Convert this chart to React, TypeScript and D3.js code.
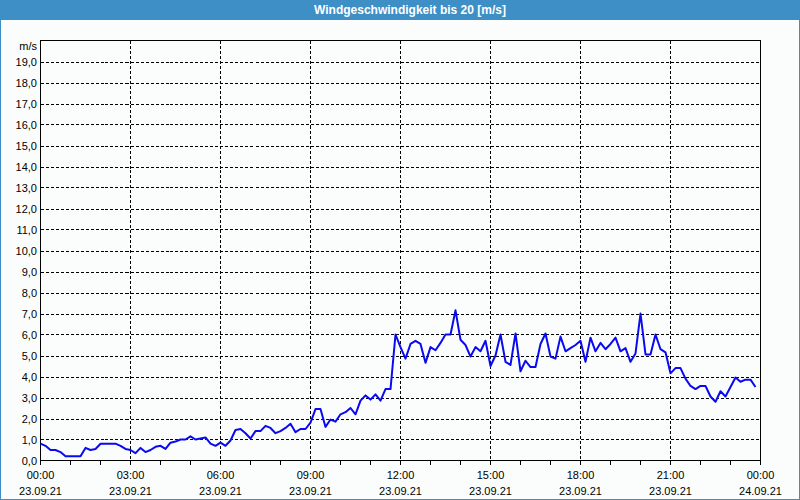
import React from 'react';
import * as d3 from 'd3';

// Wind speed in m/s, one value every 10 minutes starting 23.09.21 00:00
const speeds: number[] = [
  0.8, 0.7, 0.5, 0.5, 0.4, 0.2, 0.2, 0.2, 0.2, 0.6,
  0.5, 0.55, 0.8, 0.8, 0.8, 0.8, 0.7, 0.55, 0.5, 0.35,
  0.6, 0.4, 0.5, 0.65, 0.7, 0.55, 0.85, 0.9, 1.0, 1.0,
  1.15, 1.0, 1.05, 1.1, 0.8, 0.7, 0.85, 0.7, 0.95, 1.45,
  1.5, 1.3, 1.05, 1.4, 1.4, 1.65, 1.55, 1.3, 1.4, 1.55,
  1.75, 1.35, 1.5, 1.5, 1.8, 2.45, 2.45, 1.6, 1.95, 1.85,
  2.2, 2.3, 2.5, 2.2, 2.85, 3.1, 2.9, 3.15, 2.85, 3.4,
  3.4, 6.0, 5.4, 4.85, 5.55, 5.7, 5.55, 4.65, 5.4, 5.25,
  5.6, 6.0, 6.0, 7.15, 5.75, 5.5, 4.95, 5.4, 5.2, 5.7,
  4.5, 5.0, 6.0, 4.7, 4.55, 6.05, 4.25, 4.75, 4.45, 4.45,
  5.55, 6.05, 4.95, 4.85, 5.9, 5.2, 5.35, 5.5, 5.7, 4.7,
  5.85, 5.2, 5.6, 5.3, 5.55, 5.85, 5.2, 5.35, 4.7, 5.1,
  7.0, 5.05, 5.05, 6.0, 5.3, 5.15, 4.15, 4.4, 4.4, 3.9,
  3.55, 3.4, 3.55, 3.55, 3.05, 2.8, 3.3, 3.05, 3.5, 3.95,
  3.75, 3.85, 3.85, 3.5,
];

const startTime = new Date(2021, 8, 23, 0, 0, 0);
const endTime = new Date(2021, 8, 24, 0, 0, 0);
const stepMinutes = 10;

const yTickValues: number[] = d3.range(0, 20);
const xMajorHours: number[] = [0, 3, 6, 9, 12, 15, 18, 21, 24];
const xMinorHours: number[] = d3.range(0, 25);

const title = 'Windgeschwindigkeit bis 20 [m/s]';
const unitLabel = 'm/s';

const W = 800;
const H = 500;
const plot = { left: 40.5, right: 760.5, top: 40.5, bottom: 460.5 };
const BLUE = '#3d8fc6';
const LINE = '#0a0af0';
const FONT = '"Liberation Sans", Arial, sans-serif';

export default function App() {
  const x = d3.scaleTime().domain([startTime, endTime]).range([plot.left, plot.right]);
  const y = d3.scaleLinear().domain([0, 20]).range([plot.bottom, plot.top]);

  const points = speeds.map((v, i) => ({
    t: d3.timeMinute.offset(startTime, i * stepMinutes),
    v,
  }));

  const line = d3
    .line<{ t: Date; v: number }>()
    .x((d) => x(d.t))
    .y((d) => y(d.v));

  const hourDate = (h: number) => d3.timeHour.offset(startTime, h);
  const fmtTime = d3.timeFormat('%H:%M');
  const fmtDate = d3.timeFormat('%d.%m.%y');
  const fmtY = (v: number) => v.toFixed(1).replace('.', ',');

  return (
    <svg
      width={W}
      height={H}
      style={{ position: 'fixed', left: 0, top: 0, display: 'block' }}
      fontFamily={FONT}
    >
      <rect x={0} y={0} width={W} height={H} fill="#fbfdfc" />
      <rect x={0.5} y={0.5} width={W - 1} height={H - 1} fill="none" stroke={BLUE} />
      <rect x={0} y={0} width={W} height={20} fill={BLUE} />
      <text
        x={410}
        y={14}
        textAnchor="middle"
        fill="#ffffff"
        fontSize={12}
        fontWeight="bold"
      >
        {title}
      </text>

      {/* horizontal grid */}
      {yTickValues
        .filter((v) => v > 0)
        .map((v) => (
          <line
            key={'hg' + v}
            x1={plot.left}
            x2={plot.right}
            y1={Math.round(y(v)) + 0.5}
            y2={Math.round(y(v)) + 0.5}
            stroke="#000"
            strokeDasharray="3,2"
            shapeRendering="crispEdges"
          />
        ))}
      {/* vertical grid */}
      {xMajorHours
        .filter((h) => h > 0 && h < 24)
        .map((h) => (
          <line
            key={'vg' + h}
            x1={x(hourDate(h))}
            x2={x(hourDate(h))}
            y1={plot.top}
            y2={plot.bottom}
            stroke="#000"
            strokeDasharray="3,2"
            shapeRendering="crispEdges"
          />
        ))}

      {/* frame */}
      <rect
        x={plot.left}
        y={plot.top}
        width={plot.right - plot.left}
        height={plot.bottom - plot.top}
        fill="none"
        stroke="#000"
        shapeRendering="crispEdges"
      />

      {/* hourly ticks */}
      {xMinorHours.map((h) => (
        <line
          key={'tk' + h}
          x1={x(hourDate(h))}
          x2={x(hourDate(h))}
          y1={plot.bottom}
          y2={plot.bottom + 4}
          stroke="#000"
          shapeRendering="crispEdges"
        />
      ))}

      {/* y labels */}
      {yTickValues.map((v) => (
        <text
          key={'yl' + v}
          x={37}
          y={y(v) + 4}
          textAnchor="end"
          fontSize={11}
          fill="#000"
        >
          {fmtY(v)}
        </text>
      ))}
      <text x={37} y={50} textAnchor="end" fontSize={11} fill="#000">
        {unitLabel}
      </text>

      {/* x labels */}
      {xMajorHours.map((h) => (
        <g key={'xl' + h}>
          <text x={x(hourDate(h))} y={479} textAnchor="middle" fontSize={11} fill="#000">
            {fmtTime(hourDate(h))}
          </text>
          <text x={x(hourDate(h))} y={495} textAnchor="middle" fontSize={11} fill="#000">
            {fmtDate(hourDate(h))}
          </text>
        </g>
      ))}

      {/* data line */}
      <path
        d={line(points) || ''}
        fill="none"
        stroke={LINE}
        strokeWidth={2}
        strokeLinejoin="round"
      />
    </svg>
  );
}
